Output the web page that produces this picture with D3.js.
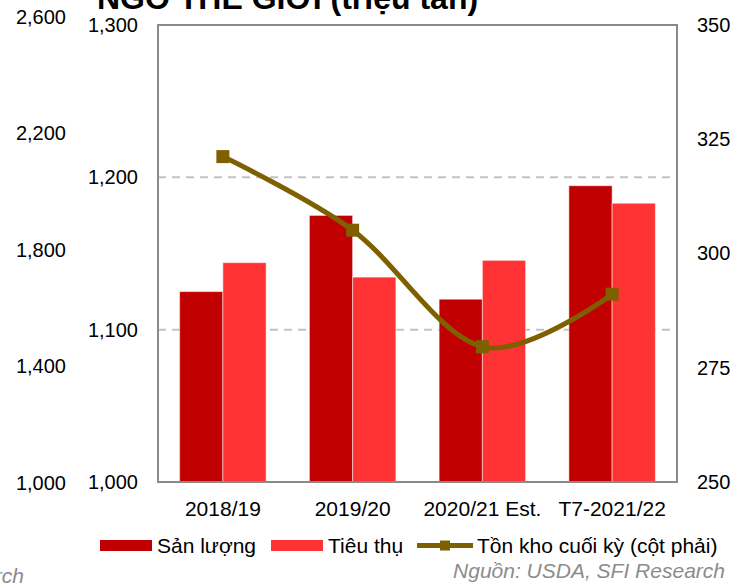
<!DOCTYPE html>
<html>
<head>
<meta charset="utf-8">
<script src="https://cdn.jsdelivr.net/npm/d3@7"></script>
<style>
  body { margin: 0; background: #fff; }
  svg { display: block; font-family: "Liberation Sans", Arial, sans-serif; }
</style>
</head>
<body>
<svg width="749" height="585"></svg>
<script>
// chart data
const categories = ["2018/19", "2019/20", "2020/21 Est.", "T7-2021/22"];
const production = [1125, 1175, 1120, 1194.5];   // Sản lượng
const consumption = [1144, 1134.5, 1145.5, 1183]; // Tiêu thụ
const endingStocks = [321.2, 305.1, 279.6, 291.1]; // Tồn kho (cột phải)

const outerTicks = [1000, 1400, 1800, 2200, 2600];
const leftTicks = [1000, 1100, 1200, 1300];
const rightTicks = [250, 275, 300, 325, 350];
const gridTicks = [1100, 1200];

const COL_PROD = "#C00000";
const COL_CONS = "#FF3333";
const COL_STOCK = "#7F6000";

// plot box
const L = 158, R = 677, T = 25, B = 482;

const svg = d3.select("svg");
const fmt = d3.format(",");

const x = d3.scaleBand().domain(categories).range([L, R])
  .paddingInner(1/3).paddingOuter(1/6);
const sub = d3.scaleBand().domain(["p", "c"]).range([0, x.bandwidth()]);
const y = d3.scaleLinear().domain([1000, 1300]).range([B, T]);
const yOuter = d3.scaleLinear().domain([1000, 2600]).range([483, 17]);
const yR = d3.scaleLinear().domain([250, 350]).range([B, T]);

// title, cut off at top
svg.append("text")
  .attr("x", 97).attr("y", 9)
  .attr("font-size", "32px").attr("font-weight", "bold")
  .text("NGÔ THẾ GIỚI (triệu tấn)");

// gridlines
svg.append("g").selectAll("line").data(gridTicks).enter().append("line")
  .attr("x1", L).attr("x2", R)
  .attr("y1", d => y(d)).attr("y2", d => y(d))
  .attr("stroke", "#c3c3c3").attr("stroke-width", 2)
  .attr("stroke-dasharray", "8,6");

// bars
const grp = svg.append("g").selectAll("g").data(categories).enter().append("g")
  .attr("transform", d => "translate(" + x(d) + ",0)");

grp.append("rect")
  .attr("x", sub("p")).attr("width", sub.bandwidth())
  .attr("y", (d, i) => y(production[i]))
  .attr("height", (d, i) => B - y(production[i]))
  .attr("fill", COL_PROD)
  .attr("stroke", "rgba(255,255,255,0.5)").attr("stroke-width", 1);

grp.append("rect")
  .attr("x", sub("c")).attr("width", sub.bandwidth())
  .attr("y", (d, i) => y(consumption[i]))
  .attr("height", (d, i) => B - y(consumption[i]))
  .attr("fill", COL_CONS)
  .attr("stroke", "rgba(255,255,255,0.5)").attr("stroke-width", 1);

// plot border
svg.append("rect")
  .attr("x", L).attr("y", T).attr("width", R - L).attr("height", B - T)
  .attr("fill", "none").attr("stroke", "#8a8a8a").attr("stroke-width", 2);

// ending stocks line, smoothed like excel
const cx = d => x(d) + x.bandwidth() / 2;
const line = d3.line()
  .x((d, i) => cx(categories[i]))
  .y(d => yR(d))
  .curve(d3.curveCatmullRom.alpha(0));

svg.append("path")
  .datum(endingStocks)
  .attr("d", line)
  .attr("fill", "none").attr("stroke", COL_STOCK).attr("stroke-width", 5);

svg.append("g").selectAll("rect").data(endingStocks).enter().append("rect")
  .attr("x", (d, i) => cx(categories[i]) - 6.5)
  .attr("y", d => yR(d) - 6.5)
  .attr("width", 13).attr("height", 13)
  .attr("fill", COL_STOCK);

// axes
function styleAxis(g, size) {
  g.select(".domain").remove();
  g.selectAll("text").attr("font-size", size).attr("fill", "#000")
    .attr("font-family", "Liberation Sans, Arial, sans-serif");
}

svg.append("g").attr("transform", "translate(66,0)")
  .call(d3.axisLeft(yOuter).tickValues(outerTicks).tickFormat(fmt).tickSize(0).tickPadding(0))
  .call(g => styleAxis(g, "20px"));

svg.append("g").attr("transform", "translate(" + L + ",0)")
  .call(d3.axisLeft(y).tickValues(leftTicks).tickFormat(fmt).tickSize(0).tickPadding(20))
  .call(g => styleAxis(g, "20px"));

svg.append("g").attr("transform", "translate(" + R + ",0)")
  .call(d3.axisRight(yR).tickValues(rightTicks).tickSize(0).tickPadding(20))
  .call(g => styleAxis(g, "20px"));

svg.append("g").attr("transform", "translate(0," + B + ")")
  .call(d3.axisBottom(x).tickSize(0).tickPadding(19))
  .call(g => styleAxis(g, "21px"));

// legend
const legend = svg.append("g").attr("font-size", "21px");
legend.append("rect").attr("x", 100).attr("y", 540).attr("width", 52).attr("height", 11).attr("fill", COL_PROD);
legend.append("text").attr("x", 157).attr("y", 553).text("Sản lượng");
legend.append("rect").attr("x", 271).attr("y", 540).attr("width", 52).attr("height", 11).attr("fill", COL_CONS);
legend.append("text").attr("x", 328).attr("y", 553).text("Tiêu thụ");
legend.append("line").attr("x1", 417).attr("x2", 473).attr("y1", 545.5).attr("y2", 545.5)
  .attr("stroke", COL_STOCK).attr("stroke-width", 5);
legend.append("rect").attr("x", 440).attr("y", 540.5).attr("width", 10).attr("height", 10).attr("fill", COL_STOCK);
legend.append("text").attr("x", 477).attr("y", 553).text("Tồn kho cuối kỳ (cột phải)");

// source notes
svg.append("text")
  .attr("x", 725).attr("y", 578).attr("text-anchor", "end")
  .attr("font-size", "21px").attr("font-style", "italic").attr("fill", "#8c8c8c")
  .text("Nguồn: USDA, SFI Research");
svg.append("text")
  .attr("x", 24).attr("y", 583).attr("text-anchor", "end")
  .attr("font-size", "21px").attr("font-style", "italic").attr("fill", "#8c8c8c")
  .text("Nguồn: USDA, SFI Research");
</script>
</body>
</html>
